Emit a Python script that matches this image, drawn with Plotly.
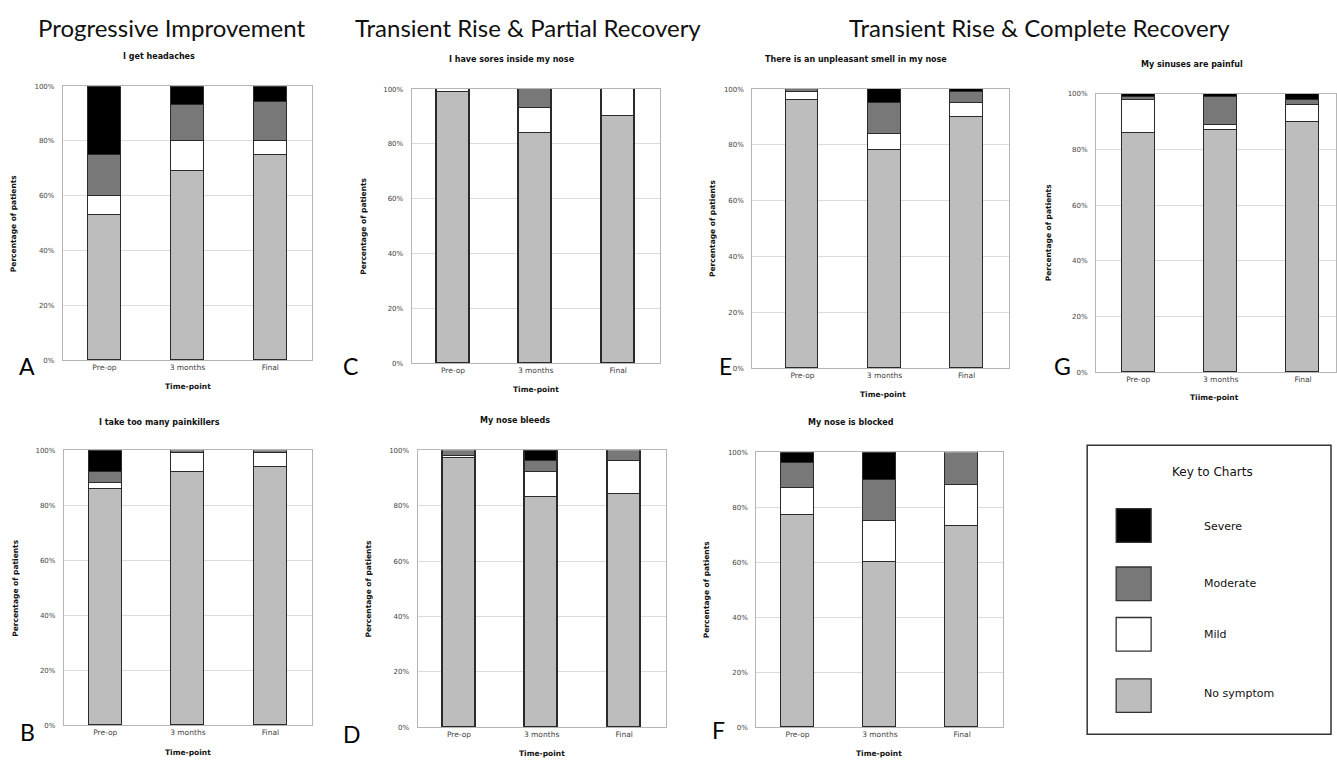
import plotly.graph_objects as go

W, H = 1337, 761

# Time-points on every chart
categories = ["Pre-op", "3 months", "Final"]

# Severity levels, stacked bottom to top
levels = ["No symptom", "Mild", "Moderate", "Severe"]
level_colors = {"No symptom": "#bdbdbd", "Mild": "#ffffff", "Moderate": "#787878", "Severe": "#000000"}

# Percentage of patients per severity level at each time-point
headaches_none = [53, 69, 75]
headaches_mild = [7, 11, 5]
headaches_moderate = [15, 13, 14]
headaches_severe = [25, 7, 6]

painkillers_none = [86, 92, 94]
painkillers_mild = [2, 7, 5]
painkillers_moderate = [4, 1, 1]
painkillers_severe = [8, 0, 0]

sores_none = [99, 84, 90]
sores_mild = [1, 9, 10]
sores_moderate = [0, 7, 0]
sores_severe = [0, 0, 0]

bleeds_none = [97, 83, 84]
bleeds_mild = [1, 9, 12]
bleeds_moderate = [2, 4, 4]
bleeds_severe = [0, 4, 0]

smell_none = [96, 78, 90]
smell_mild = [3, 6, 5]
smell_moderate = [1, 11, 4]
smell_severe = [0, 5, 1]

blocked_none = [77, 60, 73]
blocked_mild = [10, 15, 15]
blocked_moderate = [9, 15, 12]
blocked_severe = [4, 10, 0]

sinuses_none = [86, 87, 90]
sinuses_mild = [12, 2, 6]
sinuses_moderate = [1, 10, 2]
sinuses_severe = [1, 1, 2]

y_ticks = [0, 20, 40, 60, 80, 100]
y_tick_labels = ["0%", "20%", "40%", "60%", "80%", "100%"]


def X(px):
    return px / W


def Y(px):
    return 1 - px / H


# Each chart: letter, question, series, plot box in pixels (left, top, right, bottom), x range,
# label positions
panels = [
    dict(letter="A", title="I get headaches",
         series=[headaches_none, headaches_mild, headaches_moderate, headaches_severe],
         box=(63, 83, 312, 360), xr=(-0.5, 2.5),
         title_xy=(159, 53), ytitle_x=13, xtitle_xy=(188, 387), letter_xy=(27, 366),
         xtitle="Time-point"),
    dict(letter="C", title="I have sores inside my nose",
         series=[sores_none, sores_mild, sores_moderate, sores_severe],
         box=(412, 86, 660, 363), xr=(-0.5, 2.5),
         title_xy=(512, 56), ytitle_x=363, xtitle_xy=(536, 390), letter_xy=(351, 366),
         xtitle="Time-point"),
    dict(letter="E", title="There is an unpleasant smell in my nose",
         series=[smell_none, smell_mild, smell_moderate, smell_severe],
         box=(753, 86, 1010, 368), xr=(-0.61, 2.52),
         title_xy=(857, 56), ytitle_x=713, xtitle_xy=(884, 395), letter_xy=(726, 366),
         xtitle="Time-point"),
    dict(letter="G", title="My sinuses are painful",
         series=[sinuses_none, sinuses_mild, sinuses_moderate, sinuses_severe],
         box=(1097, 91, 1337, 372), xr=(-0.51, 2.40),
         title_xy=(1193, 61), ytitle_x=1049, xtitle_xy=(1215, 398), letter_xy=(1063, 366),
         xtitle="Tiime-point"),
    dict(letter="B", title="I take too many painkillers",
         series=[painkillers_none, painkillers_mild, painkillers_moderate, painkillers_severe],
         box=(64, 451, 312, 729), xr=(-0.5, 2.5),
         title_xy=(160, 423), ytitle_x=16, xtitle_xy=(188, 756), letter_xy=(28, 736),
         xtitle="Time-point"),
    dict(letter="D", title="My nose bleeds",
         series=[bleeds_none, bleeds_mild, bleeds_moderate, bleeds_severe],
         box=(418, 451, 666, 731), xr=(-0.5, 2.5),
         title_xy=(515, 421), ytitle_x=369, xtitle_xy=(542, 757), letter_xy=(352, 738),
         xtitle="Time-point"),
    dict(letter="F", title="My nose is blocked",
         series=[blocked_none, blocked_mild, blocked_moderate, blocked_severe],
         box=(757, 453, 1004, 731), xr=(-0.5, 2.5),
         title_xy=(852, 423), ytitle_x=707, xtitle_xy=(880, 757), letter_xy=(719, 734),
         xtitle="Time-point"),
]

fig = go.Figure()
layout = {}
annotations = []
shapes = []

small = "DejaVu Sans"
title_font = "Lato"

for i, p in enumerate(panels, start=1):
    xa = "x" if i == 1 else f"x{i}"
    ya = "y" if i == 1 else f"y{i}"
    for lvl, vals in zip(levels, p["series"]):
        # empty segments are left out so they draw no outline
        shown = [v if v else None for v in vals]
        fig.add_trace(go.Bar(
            x=list(range(len(categories))), y=shown, name=lvl, xaxis=xa, yaxis=ya,
            width=0.4, showlegend=False,
            marker=dict(color=level_colors[lvl], line=dict(color="#2a2a2a", width=1.4)),
        ))
    l, t, r, b = p["box"]
    key = "" if i == 1 else str(i)
    layout["xaxis" + key] = dict(
        domain=[X(l), X(r)], anchor=ya, range=list(p["xr"]),
        tickmode="array", tickvals=list(range(len(categories))), ticktext=categories,
        tickfont=dict(family=small, size=7.5, color="#444"),
        showline=True, mirror=True, linecolor="#b5b5b5", linewidth=1.2,
        showgrid=False, zeroline=False, ticks="", fixedrange=True,
    )
    layout["yaxis" + key] = dict(
        domain=[Y(b), Y(t)], anchor=xa, range=[0, 100],
        tickmode="array", tickvals=y_ticks, ticktext=y_tick_labels,
        tickfont=dict(family=small, size=7, color="#444"), ticklabelstandoff=6,
        showline=True, mirror=True, linecolor="#b5b5b5", linewidth=1.2,
        showgrid=True, gridcolor="#dcdcdc", gridwidth=1, zeroline=False, ticks="",
        fixedrange=True,
    )
    tx, ty = p["title_xy"]
    annotations.append(dict(text=f"<b>{p['title']}</b>", x=X(tx), y=Y(ty), xref="paper", yref="paper",
                            showarrow=False, xanchor="center", yanchor="middle",
                            font=dict(family=small, size=8, color="#111")))
    annotations.append(dict(text="<b>Percentage of patients</b>", x=X(p["ytitle_x"]), y=Y((t + b) / 2),
                            xref="paper", yref="paper", showarrow=False, textangle=-90,
                            xanchor="center", yanchor="middle",
                            font=dict(family=small, size=7.5, color="#111")))
    xx, xy = p["xtitle_xy"]
    annotations.append(dict(text=f"<b>{p['xtitle']}</b>", x=X(xx), y=Y(xy), xref="paper", yref="paper",
                            showarrow=False, xanchor="center", yanchor="middle",
                            font=dict(family=small, size=7.5, color="#111")))
    lx, ly = p["letter_xy"]
    annotations.append(dict(text=p["letter"], x=X(lx), y=Y(ly), xref="paper", yref="paper",
                            showarrow=False, xanchor="center", yanchor="middle",
                            font=dict(family=title_font, size=23, color="#000")))

# Group headings
for text, cx in [("Progressive Improvement", 172),
                 ("Transient Rise & Partial Recovery", 528),
                 ("Transient Rise & Complete Recovery", 1040)]:
    annotations.append(dict(text=text, x=X(cx), y=Y(24), xref="paper", yref="paper",
                            showarrow=False, xanchor="center", yanchor="middle",
                            font=dict(family=title_font, size=24, color="#111")))

# Key box
shapes.append(dict(type="rect", xref="paper", yref="paper",
                   x0=X(1088), x1=X(1332), y0=Y(738), y1=Y(446),
                   line=dict(color="#333", width=1.5), fillcolor="rgba(0,0,0,0)"))
annotations.append(dict(text="Key to Charts", x=X(1213), y=Y(473), xref="paper", yref="paper",
                        showarrow=False, xanchor="center", yanchor="middle",
                        font=dict(family=small, size=12, color="#111")))
key_rows = [("Severe", 510, 528), ("Moderate", 569, 586), ("Mild", 620, 637), ("No symptom", 682, 697)]
for lvl, top, ly in key_rows:
    shapes.append(dict(type="rect", xref="paper", yref="paper",
                       x0=X(1117), x1=X(1152), y0=Y(top + 34), y1=Y(top),
                       line=dict(color="#333", width=1.3), fillcolor=level_colors[lvl]))
    annotations.append(dict(text=lvl, x=X(1203), y=Y(ly), xref="paper", yref="paper",
                            showarrow=False, xanchor="left", yanchor="middle",
                            font=dict(family=small, size=11, color="#111")))

fig.update_layout(
    **layout,
    barmode="stack",
    bargap=0,
    width=W, height=H,
    margin=dict(l=0, r=0, t=0, b=0),
    paper_bgcolor="white", plot_bgcolor="white",
    annotations=annotations, shapes=shapes,
    showlegend=False,
)

fig.write_html("out.html", config={"displayModeBar": False})
